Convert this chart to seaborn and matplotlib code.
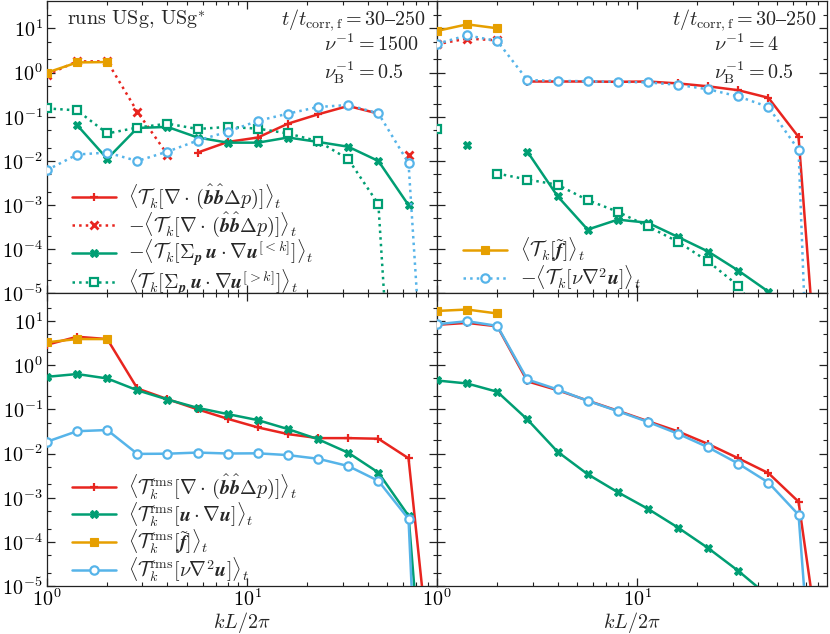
import numpy as np
import pandas as pd
import matplotlib
matplotlib.use("Agg")
import matplotlib.pyplot as plt
import seaborn as sns
from matplotlib.lines import Line2D
from matplotlib.ticker import LogLocator, NullFormatter

nan = np.nan

# wavenumbers kL/2pi
K = [1.0, 1.414, 2.0, 2.828, 4.0, 5.657, 8.0, 11.31, 16.0, 22.63, 32.0, 45.25, 64.0, 90.51]

# ---- top-left: runs USg, nu^-1 = 1500 ----
tl_bb_pos = [nan, nan, nan, nan, nan, 0.0155, 0.027, 0.034, 0.07, 0.114, 0.176, 0.118, nan, nan]
tl_bb_neg = [0.89, 1.8, 1.8, 0.13, 0.014, nan, nan, nan, nan, nan, nan, nan, 0.014, nan]
tl_adv_lt = [nan, 0.065, 0.0112, 0.056, 0.059, 0.034, 0.026, 0.026, 0.034, 0.027, 0.021, 0.0100, 0.001, nan]
tl_adv_gt = [0.155, 0.14, 0.042, 0.057, 0.07, 0.053, 0.059, 0.054, 0.042, 0.028, 0.011, 0.00105, 1.6e-14, nan]
tl_force = [1.0, 1.7, 1.74, nan, nan, nan, nan, nan, nan, nan, nan, nan, nan, nan]
tl_visc = [0.0062, 0.014, 0.0155, 0.010, 0.0163, 0.029, 0.046, 0.081, 0.118, 0.167, 0.185, 0.12, 0.009, 1.8e-13]

# ---- top-right: nu^-1 = 4 ----
tr_bb_pos = [nan, nan, nan, 0.63, 0.63, 0.63, 0.62, 0.63, 0.57, 0.49, 0.40, 0.27, 0.035, 4e-11]
tr_bb_neg = [4.4, 5.9, 5.4, nan, nan, nan, nan, nan, nan, nan, nan, nan, nan, nan]
tr_adv_lt = [nan, 0.023, nan, 0.0163, 0.0016, 0.00028, 0.00047, 0.0004, 0.00019, 8.9e-5, 3.3e-5, 1.1e-5, nan, nan]
tr_adv_gt = [0.052, nan, 0.0052, 0.0038, 0.0029, 0.0013, 0.00071, 0.00033, 0.000148, 5.3e-5, 1.5e-5, 1.7e-6, nan, nan]
tr_force = [8.8, 12.4, 10.1, nan, nan, nan, nan, nan, nan, nan, nan, nan, nan, nan]
tr_visc = [4.5, 7.0, 5.2, 0.68, 0.65, 0.64, 0.62, 0.60, 0.53, 0.42, 0.29, 0.167, 0.0178, 1.8e-20]

# ---- bottom-left: rms, nu^-1 = 1500 ----
bl_bb = [2.9, 4.4, 3.9, 0.297, 0.17, 0.1, 0.061, 0.039, 0.0275, 0.0223, 0.0223, 0.0216, 0.0078, 2.5e-9]
bl_adv = [0.545, 0.63, 0.50, 0.27, 0.167, 0.108, 0.078, 0.057, 0.0357, 0.021, 0.0104, 0.0037, 0.00039, 1.5e-12]
bl_force = [3.3, 3.9, 3.9, nan, nan, nan, nan, nan, nan, nan, nan, nan, nan, nan]
bl_visc = [0.0185, 0.032, 0.034, 0.0098, 0.0099, 0.0105, 0.010, 0.0101, 0.0092, 0.0076, 0.0052, 0.0024, 0.00033, 3e-19]

# ---- bottom-right: rms, nu^-1 = 4 ----
br_bb = [8.2, 9.06, 7.6, 0.43, 0.272, 0.158, 0.093, 0.054, 0.0316, 0.0164, 0.0078, 0.0036, 0.00081, 1.3e-8]
br_adv = [0.45, 0.385, 0.25, 0.059, 0.011, 0.0034, 0.00133, 0.00056, 0.00021, 7.2e-5, 2.2e-5, 5.9e-6, 1.5e-6, nan]
br_force = [16.9, 18.2, 14.8, nan, nan, nan, nan, nan, nan, nan, nan, nan, nan, nan]
br_visc = [8.45, 9.9, 7.75, 0.474, 0.282, 0.156, 0.091, 0.052, 0.028, 0.0138, 0.0059, 0.0022, 0.00041, 4e-13]

RED = "#E8251F"
GREEN = "#009E73"
ORANGE = "#E69F00"
BLUE = "#56B4E9"

FS = 14.5
sns.set_theme(style="ticks")
plt.rcParams.update({
    "mathtext.fontset": "cm",
    "font.family": "serif",
    "font.serif": ["cmr10", "DejaVu Serif"],
    "axes.formatter.use_mathtext": True,
    "axes.unicode_minus": False,
    "font.size": FS,
    "axes.edgecolor": "#222222",
    "axes.linewidth": 0.9,
})

STY = {
    "bb_pos": dict(color=RED, linestyle="-", marker="+", markersize=6, markeredgewidth=1.6, markerfacecolor=RED),
    "bb_neg": dict(color=RED, linestyle=":", marker="x", markersize=5.5, markeredgewidth=2.0, markerfacecolor=RED),
    "adv_lt": dict(color=GREEN, linestyle="-", marker="X", markersize=5.5, markeredgewidth=0.8, markerfacecolor=GREEN),
    "adv_gt": dict(color=GREEN, linestyle=":", marker="s", markersize=5.5, markeredgewidth=1.6, markerfacecolor="white"),
    "force": dict(color=ORANGE, linestyle="-", marker="s", markersize=5.5, markeredgewidth=0.8, markerfacecolor=ORANGE),
    "visc_dot": dict(color=BLUE, linestyle=":", marker="o", markersize=6, markeredgewidth=1.6, markerfacecolor="white"),
    "visc": dict(color=BLUE, linestyle="-", marker="o", markersize=6, markeredgewidth=1.6, markerfacecolor="white"),
}
LW = 1.8


def draw(ax, vals, key, z):
    st = STY[key]
    df = pd.DataFrame({"k": K, "v": vals})
    df["seg"] = df["v"].isna().cumsum()
    df = df.dropna()
    sns.lineplot(data=df, x="k", y="v", units="seg", estimator=None, sort=False,
                 legend=False, ax=ax, linewidth=LW, zorder=z,
                 color=st["color"], linestyle=st["linestyle"], marker=st["marker"],
                 markersize=st["markersize"], markeredgewidth=st["markeredgewidth"],
                 markeredgecolor=st["color"], markerfacecolor=st["markerfacecolor"])


def handle(key):
    st = STY[key]
    return Line2D([], [], color=st["color"], linestyle=st["linestyle"], linewidth=LW,
                  marker=st["marker"], markersize=st["markersize"],
                  markeredgewidth=st["markeredgewidth"], markeredgecolor=st["color"],
                  markerfacecolor=st["markerfacecolor"])


fig, axes = plt.subplots(2, 2, figsize=(8.3, 6.34), dpi=100, sharex=True, sharey=True)
fig.subplots_adjust(left=0.0566, right=0.9964, bottom=0.0757, top=0.9985, wspace=0.0, hspace=0.0)
(ax_tl, ax_tr), (ax_bl, ax_br) = axes

for ax in axes.flat:
    ax.set_xscale("log")
    ax.set_yscale("log")

draw(ax_tl, tl_bb_pos, "bb_pos", 3)
draw(ax_tl, tl_bb_neg, "bb_neg", 3)
draw(ax_tl, tl_adv_lt, "adv_lt", 4)
draw(ax_tl, tl_adv_gt, "adv_gt", 4)
draw(ax_tl, tl_force, "force", 5)
draw(ax_tl, tl_visc, "visc_dot", 6)

draw(ax_tr, tr_bb_pos, "bb_pos", 3)
draw(ax_tr, tr_bb_neg, "bb_neg", 3)
draw(ax_tr, tr_adv_lt, "adv_lt", 4)
draw(ax_tr, tr_adv_gt, "adv_gt", 4)
draw(ax_tr, tr_force, "force", 5)
draw(ax_tr, tr_visc, "visc_dot", 6)

draw(ax_bl, bl_bb, "bb_pos", 3)
draw(ax_bl, bl_adv, "adv_lt", 4)
draw(ax_bl, bl_force, "force", 5)
draw(ax_bl, bl_visc, "visc", 6)

draw(ax_br, br_bb, "bb_pos", 3)
draw(ax_br, br_adv, "adv_lt", 4)
draw(ax_br, br_force, "force", 5)
draw(ax_br, br_visc, "visc", 6)

for ax in axes.flat:
    ax.set_xlim(1.0, 88.8)
    ax.set_ylim(1e-5, 42)
    ax.set_xlabel("")
    ax.set_ylabel("")
    ax.yaxis.set_major_locator(LogLocator(base=10, numticks=20))
    ax.yaxis.set_minor_locator(LogLocator(base=10, subs=(2.0, 5.0), numticks=20))
    ax.yaxis.set_minor_formatter(NullFormatter())
    ax.xaxis.set_minor_formatter(NullFormatter())
    ax.tick_params(which="both", direction="in", top=True, right=True, bottom=True, left=True,
                   colors="#222222", labelcolor="black")
    ax.tick_params(which="major", length=5.5, width=0.9, labelsize=FS, pad=3)
    ax.tick_params(which="minor", length=3, width=0.8)
    ax.tick_params(axis="x", which="major", pad=1.5)

for ax in (ax_tr, ax_br):
    ax.tick_params(labelleft=False)
for ax in (ax_tl, ax_tr):
    ax.tick_params(labelbottom=False)
for ax in (ax_bl, ax_br):
    ax.set_xlabel(r"$kL/2\pi$", fontsize=FS, labelpad=0)

LEG = dict(loc="center left", frameon=False, fontsize=FS, handlelength=2.2,
           handletextpad=0.6, labelspacing=-0.05, borderpad=0, borderaxespad=0)

# legends
lab_tl = [
    r"$\langle\mathcal{T}_k[\mathbf{\nabla}\cdot\,(\hat{\mathbfit{b}}\hat{\mathbfit{b}}\Delta p)]\rangle_t$",
    r"$-\langle\mathcal{T}_k[\mathbf{\nabla}\cdot\,(\hat{\mathbfit{b}}\hat{\mathbfit{b}}\Delta p)]\rangle_t$",
    r"$-\langle\mathcal{T}_k[\Sigma_{\mathbfit{p}}\,\mathbfit{u}\cdot\mathbf{\nabla}\mathbfit{u}^{[<k]}]\rangle_t$",
    r"$\langle\mathcal{T}_k[\Sigma_{\mathbfit{p}}\,\mathbfit{u}\cdot\mathbf{\nabla}\mathbfit{u}^{[>k]}]\rangle_t$",
]
ax_tl.legend([handle("bb_pos"), handle("bb_neg"), handle("adv_lt"), handle("adv_gt")], lab_tl,
             bbox_to_anchor=(0.064, 0.183), **LEG)

lab_tr = [
    r"$\langle\mathcal{T}_k[\tilde{\mathbfit{f}}]\rangle_t$",
    r"$-\langle\mathcal{T}_k[\nu\nabla^2\mathbfit{u}]\rangle_t$",
]
ax_tr.legend([handle("force"), handle("visc_dot")], lab_tr,
             bbox_to_anchor=(0.067, 0.101), **LEG)

lab_bl = [
    r"$\langle\mathcal{T}_k^{\rm rms}[\mathbf{\nabla}\cdot\,(\hat{\mathbfit{b}}\hat{\mathbfit{b}}\Delta p)]\rangle_t$",
    r"$\langle\mathcal{T}_k^{\rm rms}[\mathbfit{u}\cdot\mathbf{\nabla}\mathbfit{u}]\rangle_t$",
    r"$\langle\mathcal{T}_k^{\rm rms}[\tilde{\mathbfit{f}}]\rangle_t$",
    r"$\langle\mathcal{T}_k^{\rm rms}[\nu\nabla^2\mathbfit{u}]\rangle_t$",
]
ax_bl.legend([handle("bb_pos"), handle("adv_lt"), handle("force"), handle("visc")], lab_bl,
             bbox_to_anchor=(0.064, 0.198), **LEG)

# annotations
ax_tl.text(0.051, 0.917, "runs USg, USg$^{*}$", transform=ax_tl.transAxes,
           ha="left", va="baseline", fontsize=FS)
for ax, x1, x2, nu in ((ax_tl, 0.600, 0.709, "1500"), (ax_tr, 0.603, 0.709, "4")):
    ax.text(x1, 0.918, r"$t/t_{\rm corr,f} = 30$" + r"$\mathrm{–}$" + r"$250$", transform=ax.transAxes,
            ha="left", va="baseline", fontsize=FS)
    ax.text(x2, 0.829, r"$\nu^{-1} = %s$" % nu, transform=ax.transAxes,
            ha="left", va="baseline", fontsize=FS)
    ax.text(x2, 0.735, r"$\nu_{\rm B}^{-1} = 0.5$", transform=ax.transAxes,
            ha="left", va="baseline", fontsize=FS)

fig.savefig("out.png", dpi=100)
